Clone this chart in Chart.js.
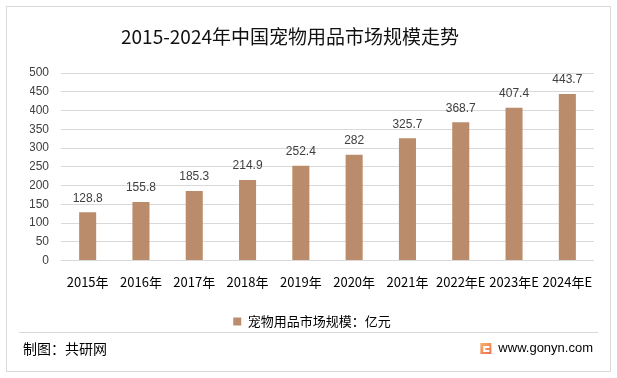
<!DOCTYPE html>
<html>
<head>
<meta charset="utf-8">
<script src="https://cdn.jsdelivr.net/npm/chart.js@4.4.0/dist/chart.umd.min.js"></script>
<style>
  html, body { margin: 0; padding: 0; background: #fff; }
  #wrap { width: 617px; height: 378px; position: relative; }
</style>
</head>
<body>
<div id="wrap"><canvas id="c" width="617" height="378"></canvas></div>
<script>
// 数据
const years = ['2015年', '2016年', '2017年', '2018年', '2019年', '2020年', '2021年', '2022年E', '2023年E', '2024年E'];
const market_size = [128.8, 155.8, 185.3, 214.9, 252.4, 282, 325.7, 368.7, 407.4, 443.7];
const series_name = '宠物用品市场规模：亿元';
const chart_title = '2015-2024年中国宠物用品市场规模走势';
const source_text = '制图：共研网';
const site_text = 'www.gonyn.com';

const bar_color = '#BA8C6B';
const cjk = '"Noto Sans CJK SC", "Microsoft YaHei", sans-serif';

// 边框、标题、页脚
const frame_plugin = {
    id: 'frame',
    beforeDraw(chart) {
        const ctx = chart.ctx;
        ctx.save();
        ctx.fillStyle = '#fff';
        ctx.fillRect(0, 0, 617, 378);
        ctx.strokeStyle = '#d9d9d9';
        ctx.lineWidth = 1;
        ctx.strokeRect(6.5, 6.5, 604, 365);
        ctx.restore();
    },
    afterDraw(chart) {
        const ctx = chart.ctx;
        ctx.save();
        ctx.fillStyle = '#111';
        ctx.font = '19px ' + cjk;
        ctx.textAlign = 'center';
        ctx.textBaseline = 'middle';
        ctx.fillText(chart_title, 290, 37);

        ctx.strokeStyle = '#d9d9d9';
        ctx.beginPath();
        ctx.moveTo(19, 332.5);
        ctx.lineTo(598, 332.5);
        ctx.stroke();

        ctx.fillStyle = '#000';
        ctx.font = '14px ' + cjk;
        ctx.textAlign = 'left';
        ctx.fillText(source_text, 23, 349);
        ctx.textAlign = 'right';
        ctx.font = '13px "Liberation Sans", Arial, sans-serif';
        ctx.fillText(site_text, 593, 348);

        // logo
        const w = ctx.measureText(site_text).width;
        const lx = 593 - w - 18;
        const grad = ctx.createLinearGradient(lx, 342, lx + 11, 355);
        grad.addColorStop(0, '#f7b46a');
        grad.addColorStop(1, '#ee6a4f');
        ctx.fillStyle = grad;
        ctx.fillRect(lx, 343, 11, 11);
        ctx.fillStyle = '#fff';
        ctx.fillRect(lx + 3, 346, 6, 2);
        ctx.fillRect(lx + 3, 346, 2, 6);
        ctx.fillRect(lx + 3, 350, 6, 2);
        ctx.restore();
    }
};

// 柱子上的数值
const value_labels = {
    id: 'valueLabels',
    afterDatasetsDraw(chart) {
        const ctx = chart.ctx;
        const meta = chart.getDatasetMeta(0);
        ctx.save();
        ctx.fillStyle = '#404040';
        ctx.font = '12px "Liberation Sans", Arial, sans-serif';
        ctx.textAlign = 'center';
        ctx.textBaseline = 'middle';
        meta.data.forEach(function (bar, i) {
            ctx.fillText(String(market_size[i]), bar.x, bar.y - 14);
        });
        ctx.restore();
    }
};

new Chart(document.getElementById('c'), {
    type: 'bar',
    data: {
        labels: years,
        datasets: [{
            label: series_name,
            data: market_size,
            backgroundColor: bar_color,
            borderWidth: 0,
            categoryPercentage: 1,
            barPercentage: 0.32
        }]
    },
    options: {
        responsive: false,
        animation: false,
        layout: { padding: { left: 30, right: 23, top: 73, bottom: 40 } },
        plugins: {
            title: { display: false },
            tooltip: { enabled: false },
            legend: {
                position: 'bottom',
                labels: {
                    boxWidth: 8,
                    boxHeight: 8,
                    padding: 10,
                    color: '#000',
                    font: { size: 13, family: cjk }
                }
            }
        },
        scales: {
            x: {
                grid: { display: false, drawTicks: false },
                border: { display: false },
                ticks: {
                    color: '#000',
                    padding: 14,
                    maxRotation: 0,
                    autoSkip: false,
                    font: { size: 13, family: cjk }
                },
                afterFit(scale) { scale.height = 44.5; }
            },
            y: {
                min: 0,
                max: 500,
                grid: { color: '#d9d9d9', drawTicks: false },
                border: { display: false },
                ticks: {
                    stepSize: 50,
                    color: '#404040',
                    padding: 12,
                    font: { size: 12, family: '"Liberation Sans", Arial, sans-serif' }
                },
                afterFit(scale) { scale.width = 31; }
            }
        }
    },
    plugins: [frame_plugin, value_labels]
});
</script>
</body>
</html>
